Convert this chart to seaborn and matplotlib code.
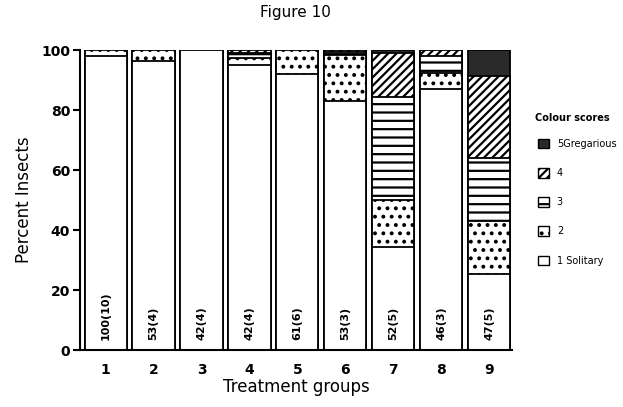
import matplotlib
matplotlib.use("Agg")
import matplotlib.pyplot as plt
from matplotlib.patches import Patch
import seaborn as sns
import pandas as pd
import numpy as np

groups = ["1", "2", "3", "4", "5", "6", "7", "8", "9"]
score1 = [98.0, 96.5, 100.0, 95.0, 92.0, 83.0, 34.5, 87.0, 25.5]
score2 = [2.0, 3.5, 0.0, 2.5, 8.0, 15.3, 15.5, 5.5, 17.5]
score3 = [0.0, 0.0, 0.0, 1.5, 0.0, 1.0, 34.5, 5.5, 21.0]
score4 = [0.0, 0.0, 0.0, 1.0, 0.0, 0.7, 14.5, 2.0, 27.5]
score5 = [0.0, 0.0, 0.0, 0.0, 0.0, 0.0, 1.0, 0.0, 8.5]
bar_labels = ["100(10)", "53(4)", "42(4)", "42(4)", "61(6)", "53(3)", "52(5)", "46(3)", "47(5)"]
legend_labels = ["5Gregarious", "4", "3", "2", "1 Solitary"]

sns.set_theme(style="white")
plt.rcParams["font.family"] = ["DejaVu Sans"]
plt.rcParams["text.color"] = "black"
plt.rcParams["axes.labelcolor"] = "black"
plt.rcParams["xtick.color"] = "black"
plt.rcParams["ytick.color"] = "black"
plt.rcParams["hatch.linewidth"] = 1.6
plt.rcParams["hatch.color"] = "black"

fig = plt.figure(figsize=(6.23, 4.07), dpi=100)
ax = fig.add_axes([0.128, 0.14, 0.694, 0.737])

s = np.array([score1, score2, score3, score4, score5])
cum = np.cumsum(s, axis=0)
df = pd.DataFrame({"group": groups,
                   "c1": cum[0], "c2": cum[1], "c3": cum[2], "c4": cum[3], "c5": cum[4]})

styles = [("c5", "#2a2a2a", ""), ("c4", "white", "////"), ("c3", "white", "--"),
          ("c2", "white", ".."), ("c1", "white", "")]
for col, fc, hatch in styles:
    sns.barplot(data=df, x="group", y=col, ax=ax, color=fc, width=0.88,
                edgecolor="black", linewidth=1.3, hatch=hatch, saturation=1)

for i, lab in enumerate(bar_labels):
    ax.text(i, 3.5, lab, rotation=90, ha="center", va="bottom",
            fontsize=8, fontweight="bold", color="black")

ax.set_xlim(-0.54, 8.48)
ax.set_ylim(0, 100)
ax.set_yticks([0, 20, 40, 60, 80, 100])
ax.set_xlabel("Treatment groups", fontsize=12, labelpad=1)
ax.set_ylabel("Percent Insects", fontsize=12, labelpad=6)
ax.set_title("Figure 10", fontsize=11, pad=24)
for sp in ["top", "right"]:
    ax.spines[sp].set_visible(False)
for sp in ["left", "bottom"]:
    ax.spines[sp].set_linewidth(1.5)
    ax.spines[sp].set_color("black")
ax.tick_params(axis="y", left=True, length=5, width=1.5, labelsize=10, pad=2)
ax.tick_params(axis="x", bottom=False, labelsize=10, pad=3)
for t in ax.get_xticklabels() + ax.get_yticklabels():
    t.set_fontweight("bold")

handles = [Patch(facecolor="#2a2a2a", edgecolor="black", label=legend_labels[0]),
           Patch(facecolor="white", edgecolor="black", hatch="////", label=legend_labels[1]),
           Patch(facecolor="white", edgecolor="black", hatch="--", label=legend_labels[2]),
           Patch(facecolor="white", edgecolor="black", hatch="..", label=legend_labels[3]),
           Patch(facecolor="white", edgecolor="black", label=legend_labels[4])]
fig.text(0.858, 0.71, "Colour scores", fontsize=7, fontweight="bold",
         ha="left", va="center")
leg = fig.legend(handles=handles, loc="upper left", bbox_to_anchor=(0.85, 0.68),
                 frameon=False, fontsize=7, handlelength=1.1, handleheight=1.1,
                 labelspacing=1.97, handletextpad=0.8)

fig.savefig("out.png", dpi=100)
